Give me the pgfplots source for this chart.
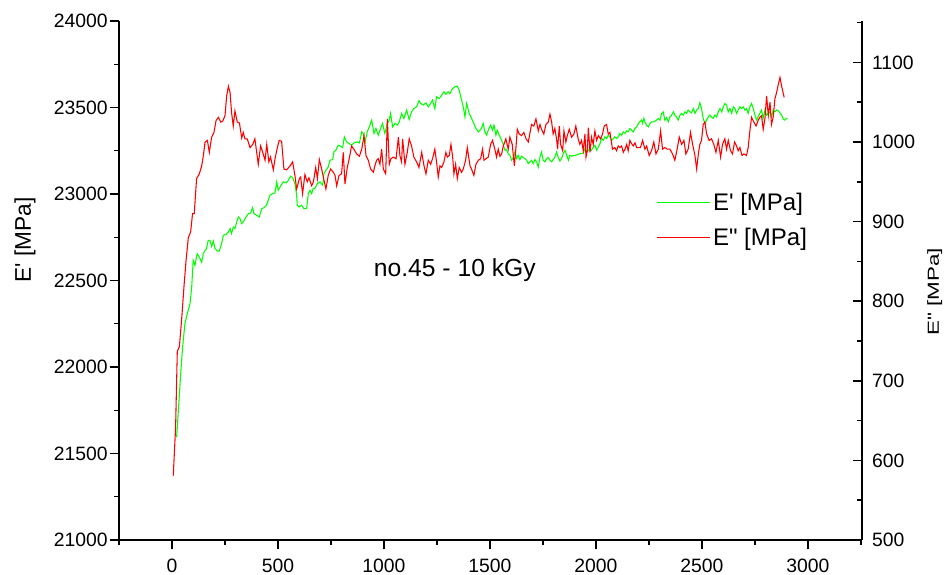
\documentclass[border=0pt]{standalone}
\usepackage{fontspec}
\setmainfont{Liberation Sans}
\usepackage{pgfplots}
\pgfplotsset{compat=1.18}

\pgfplotstableread{
x y
22 21593
30 21748
41 21960
50 22114
61 22250
72 22308
85 22365
93 22462
100 22616
108 22587
119 22655
129 22635
140 22606
148 22655
156 22674
163 22684
171 22732
179 22732
187 22697
195 22728
203 22684
214 22670
223 22670
234 22713
242 22761
255 22767
266 22780
274 22800
281 22771
289 22809
297 22800
305 22838
313 22867
321 22858
328 22829
336 22838
349 22867
360 22886
371 22890
380 22921
387 22886
399 22877
412 22867
423 22915
434 22921
446 22935
454 22964
462 22993
475 23002
486 23006
494 23070
501 23021
512 23045
525 23070
538 23064
549 23079
560 23103
569 23095
580 23060
588 22993
591 22935
600 22925
611 22935
622 22915
635 22915
643 23002
651 23021
659 23002
666 23031
674 23031
685 23060
698 23070
711 23050
717 23118
726 23137
737 23156
745 23195
758 23199
764 23243
773 23253
784 23282
795 23276
805 23268
813 23330
824 23301
836 23291
847 23282
858 23295
871 23301
884 23295
895 23359
902 23350
910 23295
921 23359
934 23398
942 23427
953 23350
962 23379
973 23340
984 23379
993 23408
1004 23350
1016 23408
1025 23427
1031 23466
1041 23388
1052 23408
1063 23398
1072 23417
1083 23466
1094 23437
1107 23485
1119 23431
1130 23475
1141 23494
1154 23504
1165 23539
1174 23523
1185 23514
1198 23527
1209 23504
1220 23523
1229 23543
1240 23494
1248 23562
1261 23552
1272 23571
1283 23591
1292 23577
1303 23591
1311 23581
1324 23610
1335 23620
1346 23624
1355 23600
1366 23543
1374 23504
1382 23446
1390 23523
1402 23466
1413 23437
1424 23408
1434 23379
1445 23359
1460 23379
1468 23408
1476 23359
1484 23340
1492 23369
1503 23398
1512 23369
1519 23398
1528 23340
1534 23369
1544 23340
1555 23311
1563 23282
1571 23253
1578 23257
1586 23234
1594 23224
1602 23195
1610 23211
1618 23243
1626 23205
1633 23224
1641 23199
1649 23218
1657 23211
1665 23205
1673 23195
1681 23176
1689 23186
1696 23195
1704 23176
1712 23199
1720 23186
1728 23156
1736 23214
1743 23243
1751 23195
1759 23186
1767 23205
1775 23211
1783 23195
1791 23186
1798 23199
1806 23214
1814 23243
1822 23211
1830 23191
1838 23205
1846 23234
1854 23253
1862 23224
1870 23195
1877 23224
1885 23218
1893 23222
1905 23224
1916 23230
1924 23234
1932 23234
1940 23238
1948 23263
1956 23243
1964 23253
1972 23257
1979 23253
1987 23272
1995 23282
2003 23253
2011 23272
2019 23291
2027 23321
2035 23311
2042 23330
2050 23321
2058 23340
2066 23330
2074 23311
2082 23321
2089 23330
2097 23321
2105 23330
2113 23350
2121 23340
2129 23359
2137 23350
2145 23365
2152 23359
2160 23379
2168 23369
2176 23359
2184 23379
2192 23388
2200 23408
2207 23417
2215 23427
2220 23408
2226 23437
2231 23417
2239 23398
2247 23388
2255 23408
2263 23417
2270 23417
2278 23421
2286 23427
2294 23437
2302 23427
2310 23466
2317 23475
2325 23427
2333 23442
2341 23417
2349 23446
2357 23456
2365 23475
2372 23456
2380 23446
2388 23427
2396 23456
2404 23466
2412 23456
2420 23475
2427 23466
2435 23485
2443 23475
2451 23469
2459 23494
2467 23466
2475 23485
2483 23494
2490 23527
2498 23494
2506 23437
2514 23408
2522 23427
2530 23446
2537 23456
2545 23446
2553 23437
2561 23456
2569 23446
2577 23475
2585 23494
2593 23475
2601 23504
2608 23523
2616 23514
2624 23475
2632 23494
2640 23466
2648 23504
2656 23494
2663 23466
2671 23485
2679 23504
2687 23494
2695 23504
2703 23485
2710 23494
2718 23466
2726 23504
2734 23523
2742 23494
2750 23456
2758 23427
2765 23446
2773 23466
2781 23485
2789 23437
2797 23485
2805 23456
2813 23466
2821 23475
2828 23446
2836 23485
2844 23475
2852 23485
2860 23481
2868 23469
2876 23456
2884 23431
2891 23427
2899 23437
2904 23437
}\storage

\pgfplotstableread{
x y
6 581
17 641
25 737
35 743
46 779
57 820
66 850
77 880
88 887
97 910
105 910
116 954
129 960
140 970
148 983
156 1000
167 1002
176 987
187 1006
198 1012
208 1027
219 1031
230 1025
239 1026
250 1033
258 1058
266 1070
274 1062
281 1037
289 1020
297 1039
308 1025
318 1024
329 1005
336 1012
344 1004
355 1004
368 993
381 997
391 1004
407 972
418 995
428 987
439 977
447 997
457 975
465 981
478 965
486 979
497 993
506 1002
517 1001
528 966
541 965
557 970
569 975
580 958
588 941
601 954
607 956
616 935
627 959
638 950
646 955
659 945
667 950
678 968
686 954
695 978
706 966
717 952
726 941
737 958
748 966
761 962
769 958
777 945
788 958
800 960
808 987
816 947
827 968
836 979
847 995
858 991
871 985
884 982
895 991
906 1008
915 983
926 977
937 966
950 962
957 970
965 977
973 979
981 972
989 991
997 966
1008 960
1016 1029
1025 972
1033 979
1044 981
1057 979
1068 1006
1075 983
1083 975
1088 1004
1099 972
1110 987
1119 1004
1130 995
1141 981
1154 975
1165 968
1178 987
1189 970
1198 960
1209 977
1220 972
1229 979
1240 991
1248 975
1256 956
1264 970
1272 968
1283 975
1292 987
1299 981
1308 983
1316 997
1324 981
1330 960
1338 972
1346 954
1355 968
1366 962
1374 966
1385 977
1393 993
1406 970
1413 966
1424 958
1434 972
1445 977
1456 979
1465 991
1472 977
1481 979
1492 981
1503 997
1512 1002
1523 991
1531 981
1539 991
1547 982
1555 985
1563 995
1575 1004
1586 991
1594 1006
1605 997
1615 970
1622 991
1629 1016
1638 1010
1649 1008
1660 1012
1670 1004
1681 1000
1689 1012
1696 1022
1707 1020
1717 1029
1728 1014
1736 1022
1743 1016
1754 1010
1764 1022
1775 1025
1783 1035
1791 1025
1798 1010
1806 1017
1814 1004
1819 991
1827 1020
1833 997
1843 989
1849 1014
1858 1000
1865 1008
1874 1016
1885 1006
1896 1010
1905 1020
1916 1004
1924 997
1932 1002
1940 989
1948 1010
1953 981
1959 989
1964 1018
1972 987
1979 1006
1987 997
1995 1014
2003 1002
2011 1008
2022 1004
2031 1010
2039 1020
2050 1022
2058 1010
2066 1012
2078 991
2089 993
2097 989
2105 995
2113 993
2121 995
2129 987
2137 991
2145 997
2152 989
2160 1002
2168 998
2176 995
2184 999
2192 993
2210 993
2220 1002
2231 991
2239 995
2251 983
2262 989
2273 1000
2283 985
2294 991
2305 1014
2314 991
2325 993
2336 991
2349 991
2361 985
2372 977
2380 987
2393 1006
2404 997
2415 1002
2424 985
2435 991
2446 1012
2456 997
2467 983
2475 966
2483 985
2490 997
2498 1002
2506 1022
2514 1025
2522 1010
2534 1002
2545 1004
2556 997
2566 987
2577 1002
2588 981
2597 997
2608 1004
2616 991
2624 1002
2635 989
2644 985
2654 1000
2663 995
2671 989
2679 993
2689 983
2698 985
2710 983
2718 993
2726 1014
2734 1031
2745 1025
2755 1020
2765 1027
2773 1031
2781 1033
2789 1016
2797 1029
2805 1058
2813 1033
2821 1050
2828 1022
2836 1031
2844 1054
2852 1062
2860 1072
2868 1081
2876 1070
2888 1056
}\lossmod

\begin{document}
\begin{tikzpicture}
\pgfplotsset{
  dma/.style={
    scale only axis, width=557.25pt, height=389.25pt,
    xmin=-250, xmax=3255,
    axis line style={line width=1.1pt},
    every tick/.style={line width=1.1pt, black},
    major tick length=7pt, minor tick length=3.5pt,
    scaled ticks=false,
    /pgf/number format/assume math mode=true,
    /pgf/number format/set thousands separator={},
    tick label style={font=\fontsize{14.5}{16}\selectfont},
  }
}
\begin{axis}[dma,
  axis x line*=bottom, axis y line*=left,
  tick align=outside,
  ymin=21000, ymax=24000,
  xtick={0,500,...,3000}, minor xtick={-250,250,...,3250},
  ytick={21000,21500,...,24000}, minor ytick={21250,21750,...,23750},
  xticklabel style={yshift=-3.5pt},
  yticklabel style={xshift=2pt},
  ylabel={E\textquotesingle{} [MPa]},
  ylabel style={at={(rel axis cs:-0.1265,0.578)}, anchor=center,
    font=\fontsize{17}{20}\selectfont},
]
\addplot[green, line width=0.8pt] table {\storage};
\node[font=\fontsize{18.5}{22}\selectfont] at (rel axis cs:0.452,0.52) {no.45 - 10 kGy};
\end{axis}

\begin{axis}[dma,
  axis x line=none, axis y line*=right,
  tick align=inside,
  ymin=500, ymax=1152,
  ytick={500,600,...,1100}, minor ytick={550,650,...,1150},
  yticklabel style={xshift=4pt},
  ylabel={\scalebox{1.4}[1]{E\textquotedbl{} [MPa]}},
  ylabel style={at={(rel axis cs:1.098,0.478)}, anchor=center,
    font=\fontsize{12}{14}\selectfont},
  legend style={at={(rel axis cs:0.717,0.68)}, anchor=north west,
    draw=none, fill=none, font=\fontsize{18}{21}\selectfont,
    row sep=8pt},
  legend cell align=left,
  legend image code/.code={\draw[#1] (0pt,0pt) -- (40pt,0pt);},
]
\addlegendimage{green, line width=0.8pt}
\addlegendentry{E\textquotesingle{} [MPa]}
\addplot[red, line width=0.8pt] table {\lossmod};
\addlegendentry{E\textquotedbl{} [MPa]}
\end{axis}
\pgfresetboundingbox
\path (-89.25pt,-26.25pt) rectangle (621pt,405pt);
\end{tikzpicture}
\end{document}
